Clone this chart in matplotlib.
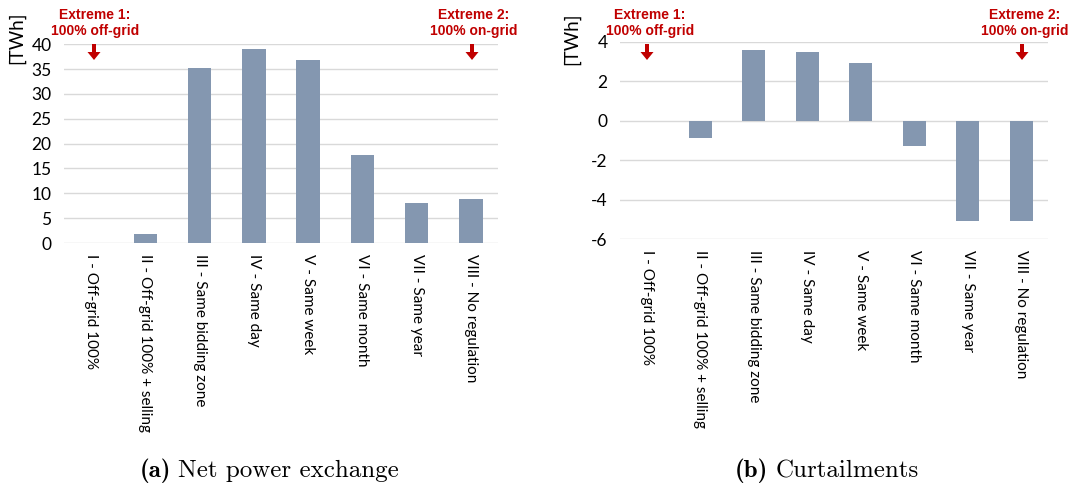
import numpy as np
import matplotlib.pyplot as plt
from matplotlib.patches import FancyArrow

# Data
scenarios = [
    "I - Off-grid 100%",
    "II - Off-grid 100% + selling",
    "III - Same bidding zone",
    "IV - Same day",
    "V - Same week",
    "VI - Same month",
    "VII - Same year",
    "VIII - No regulation",
]
net_exchange = [0.0, 1.8, 35.3, 39.0, 36.9, 17.7, 8.1, 8.8]
curtailments = [0.0, -0.9, 3.6, 3.5, 2.9, -1.3, -5.1, -5.1]

bar_color = "#8497B0"
red = "#C00000"
tick_font = "Lato"

fig = plt.figure(figsize=(10.88, 4.9), dpi=100)
W, H = 1088, 490


def px_axes(x0, x1, ytop, ybot):
    return fig.add_axes([x0 / W, 1 - ybot / H, (x1 - x0) / W, (ybot - ytop) / H])


ax1 = px_axes(64, 498, 44.3, 243)
ax2 = px_axes(620, 1048, 41.7, 239)


def style_axes(ax, values, ylim, yticks):
    x = np.arange(len(values))
    ax.bar(x, values, width=0.43, color=bar_color, linewidth=0, zorder=3)
    ax.set_xlim(-0.5, len(values) - 0.5)
    ax.set_ylim(*ylim)
    ax.set_yticks(yticks)
    ax.set_yticklabels([str(t) for t in yticks], fontsize=12.5, family=tick_font)
    ax.set_xticks(x)
    ax.set_xticklabels(scenarios, rotation=270, fontsize=11, family=tick_font,
                       va="top", ha="center")
    ax.tick_params(length=0, pad=8)
    ax.tick_params(axis="y", pad=9)
    ax.grid(axis="y", color="#D9D9D9", linewidth=1, zorder=0)
    for s in ax.spines.values():
        s.set_visible(False)


style_axes(ax1, net_exchange, (0, 40), list(range(0, 45, 5)))
style_axes(ax2, curtailments, (-6, 4), list(range(-6, 6, 2)))

# y unit labels
fig.text(17 / W, 1 - 38 / H, "[TWh]", rotation=90, fontsize=13.5, family=tick_font,
         ha="center", va="center")
fig.text(572 / W, 1 - 39 / H, "[TWh]", rotation=90, fontsize=13.5, family=tick_font,
         ha="center", va="center")


# Extreme annotations
def extreme(xc, xa, text):
    fig.text(xc / W, 1 - 23 / H, text, color=red, fontsize=10, fontweight="bold",
             family="Liberation Sans", ha="center", va="center", linespacing=1.15)
    # arrow in pixel units (inches * 100)
    fig.add_artist(FancyArrow(xa / 100, (H - 44) / 100, 0, -16 / 100,
                              width=4 / 100, head_width=13 / 100, head_length=8 / 100,
                              length_includes_head=True, color=red, lw=0,
                              transform=fig.dpi_scale_trans))


extreme(95, 94, "Extreme 1:\n100% off-grid")
extreme(474, 472, "Extreme 2:\n100% on-grid")
extreme(650, 647, "Extreme 1:\n100% off-grid")
extreme(1025, 1022, "Extreme 2:\n100% on-grid")


# Captions
def caption(x0, tag, text):
    t = fig.text(x0 / W, 1 - 471 / H, tag, family="cmb10", fontsize=18,
                 ha="left", va="center")
    fig.canvas.draw()
    bb = t.get_window_extent()
    fig.text((bb.x1 + 7) / W, 1 - 471 / H, text, family="cmr10", fontsize=18,
             ha="left", va="center")


caption(140, "(a)", "Net power exchange")
caption(735, "(b)", "Curtailments")

fig.savefig("out.png", dpi=100)
